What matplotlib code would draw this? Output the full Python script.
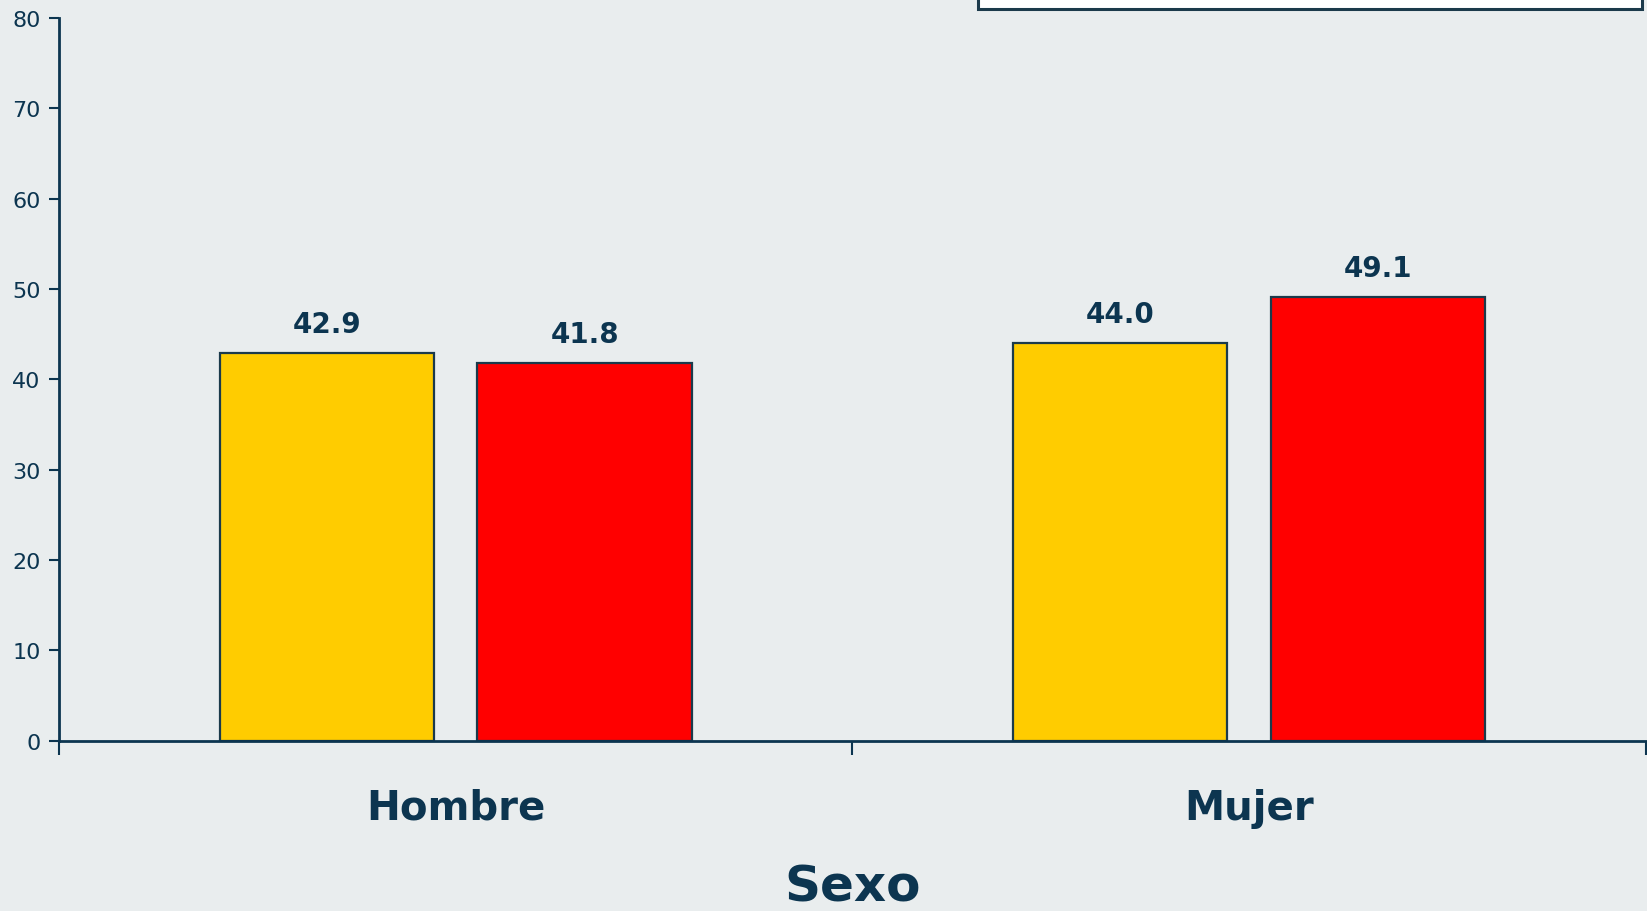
import numpy as np
import matplotlib.pyplot as plt
from matplotlib.patches import Rectangle

categories = ["Hombre", "Mujer"]
serie_a = [42.9, 44.0]
serie_b = [41.8, 49.1]
yticks = [0, 10, 20, 30, 40, 50, 60, 70, 80]

bg = "#E9EDEE"
ink = "#0C3550"
edge = "#1B3A4B"

fig = plt.figure(figsize=(16.47, 9.12), dpi=100, facecolor=bg)
ax = fig.add_axes([0.0357, 0.1868, 0.9637, 0.7925], facecolor=bg)

x = np.arange(len(categories))
w = 0.27
off = 0.1625
b1 = ax.bar(x - off, serie_a, w, color="#FFCC00", edgecolor=edge, linewidth=1.6)
b2 = ax.bar(x + off, serie_b, w, color="#FF0000", edgecolor=edge, linewidth=1.6)

for bars in (b1, b2):
    ax.bar_label(bars, labels=[f"{v:.1f}" for v in bars.datavalues], padding=11,
                 fontsize=20, fontweight="bold", color=ink)

ax.set_xlim(-0.5, 1.5)
ax.set_ylim(0, 80)
ax.set_yticks(yticks)
ax.tick_params(axis="y", direction="out", length=7, width=1.5, colors=ink,
               labelsize=16, pad=6)
ax.set_xticks(x)
ax.set_xticklabels(categories, fontsize=29, fontweight="bold", color=ink)
ax.tick_params(axis="x", which="major", length=0, pad=34)
ax.set_xticks([-0.5, 0.5, 1.5], minor=True)
ax.tick_params(axis="x", which="minor", direction="out", length=10, width=1.5, color=ink)

for s in ("top", "right"):
    ax.spines[s].set_visible(False)
for s in ("left", "bottom"):
    ax.spines[s].set_color(ink)
    ax.spines[s].set_linewidth(2)

fig.text(0.5176, 0.012, "Sexo", ha="center", va="baseline", fontsize=36,
         fontweight="bold", color=ink)

# legend box mostly cut off at the top
fig.patches.append(Rectangle((0.5938, 0.989), 0.403, 0.05, transform=fig.transFigure,
                             facecolor="white", edgecolor=edge, linewidth=2.2))

fig.savefig("out.png", dpi=100, facecolor=bg)
